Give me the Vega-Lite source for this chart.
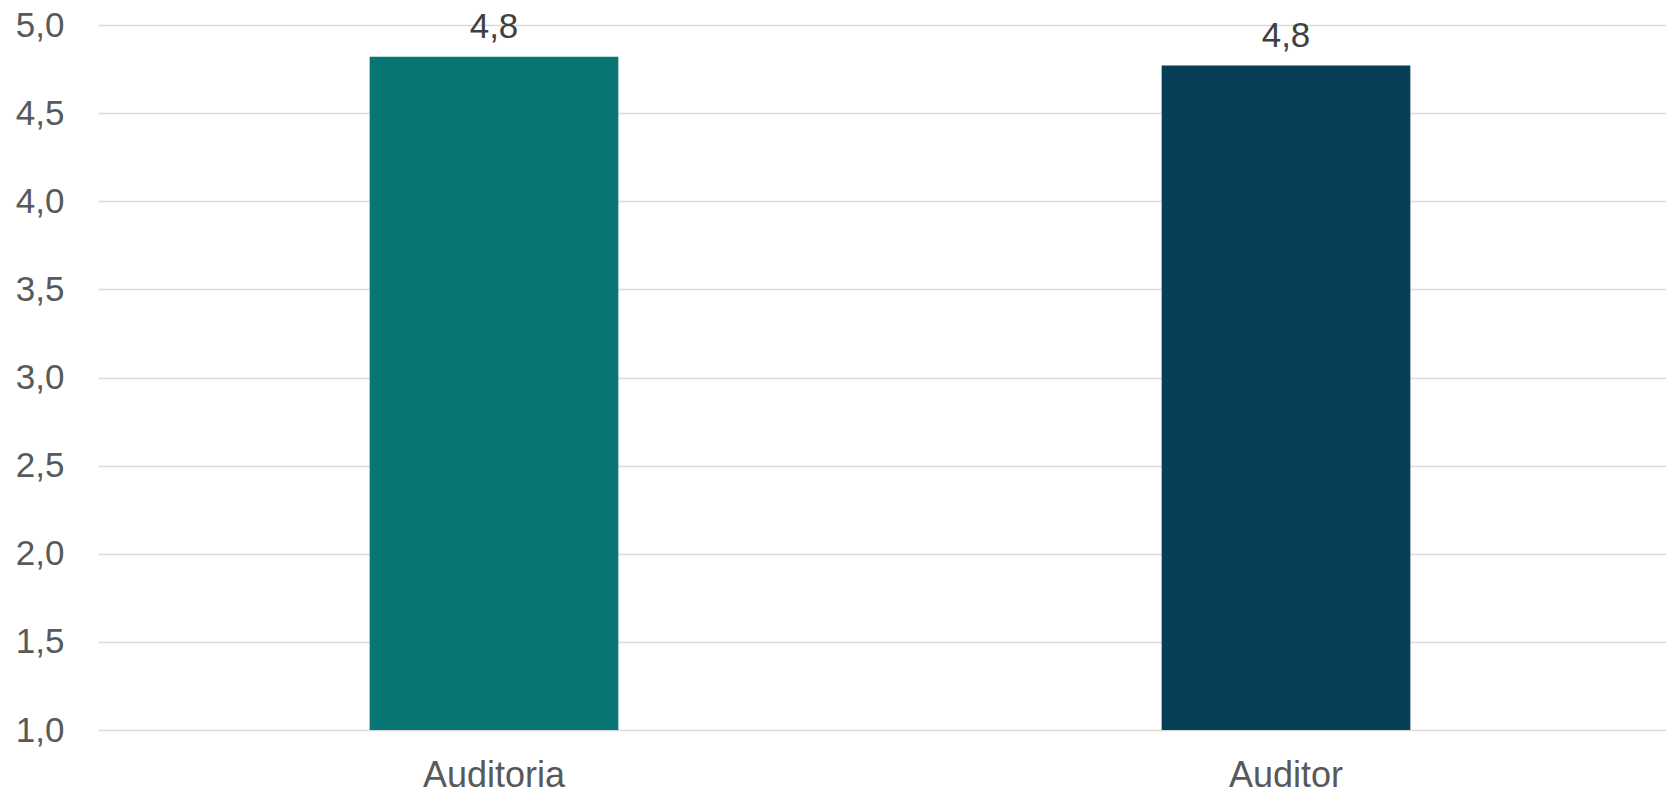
{
  "$schema": "https://vega.github.io/schema/vega-lite/v6.json",
  "autosize": {"type": "none"},
  "padding": {"left": 98, "top": 25, "right": 0, "bottom": 65},
  "width": 1584,
  "height": 705,
  "background": "white",
  "config": {
    "locale": {"number": {"decimal": ",", "thousands": ".", "grouping": [3], "currency": ["", " €"]}},
    "view": {"stroke": null},
    "font": "Liberation Sans"
  },
  "data": {"values": [
    {"categoria": "Auditoria", "valor": 4.82},
    {"categoria": "Auditor", "valor": 4.77}
  ]},
  "encoding": {
    "x": {
      "field": "categoria", "type": "nominal", "sort": null,
      "scale": {"paddingInner": 0.686, "paddingOuter": 0.343},
      "axis": {"title": null, "labelAngle": 0, "domain": false, "ticks": false,
               "labelFont": "Liberation Sans", "labelFontSize": 36, "labelColor": "#595959", "labelPadding": 28}
    },
    "y": {
      "field": "valor", "type": "quantitative",
      "scale": {"domain": [1, 5], "zero": false, "nice": false},
      "axis": {"title": null, "values": [1, 1.5, 2, 2.5, 3, 3.5, 4, 4.5, 5], "format": ".1f",
               "domain": false, "ticks": false, "grid": true, "gridColor": "#D9D9D9", "gridWidth": 1.5,
               "labelFont": "Liberation Sans", "labelFontSize": 35, "labelColor": "#595959", "labelPadding": 34}
    }
  },
  "layer": [
    {
      "mark": {"type": "bar"},
      "encoding": {
        "y2": {"datum": 1},
        "color": {
          "field": "categoria", "type": "nominal", "legend": null,
          "scale": {"domain": ["Auditoria", "Auditor"], "range": ["#077674", "#063D57"]}
        }
      }
    },
    {
      "mark": {"type": "text", "baseline": "alphabetic", "dy": -19, "font": "Liberation Sans", "fontSize": 35, "color": "#404040"},
      "encoding": {
        "text": {"field": "valor", "type": "quantitative", "format": ".1f"}
      }
    }
  ]
}
